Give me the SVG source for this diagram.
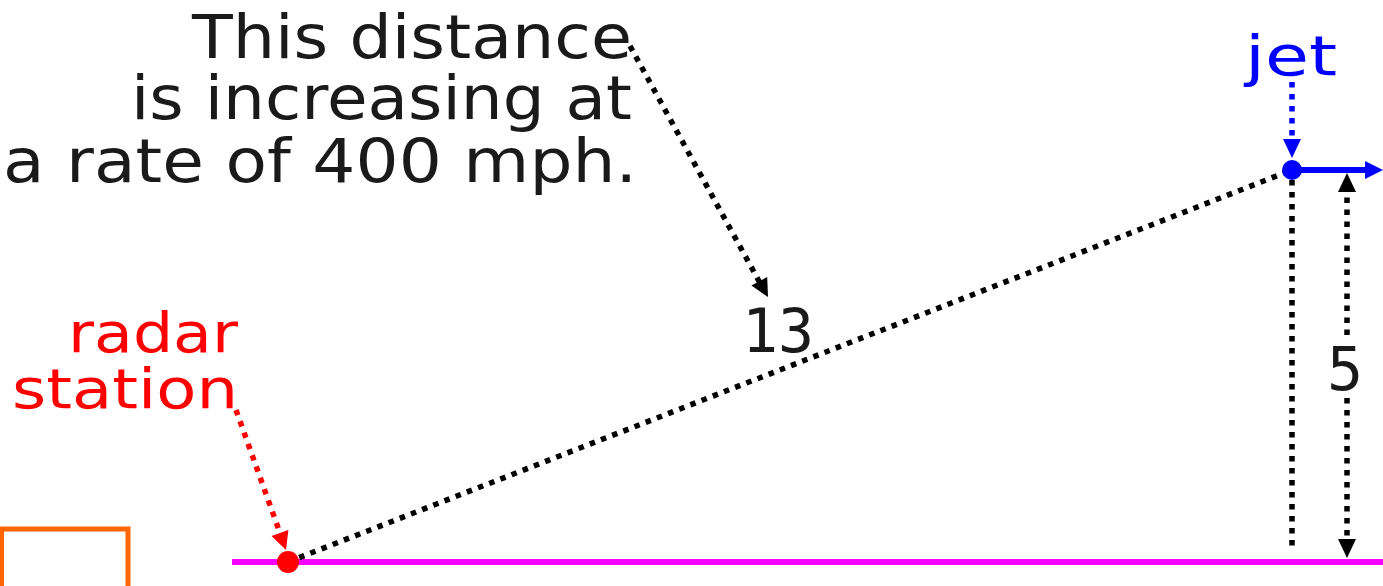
<svg xmlns="http://www.w3.org/2000/svg" width="1383" height="586" viewBox="0 0 1383 586">
<defs>
<style>
.dots{fill:none;stroke-width:5.5;stroke-dasharray:5.5 6.5}
.lbl{font-family:"DejaVu Sans","Liberation Sans",sans-serif;font-size:60px;fill:#1a1a1a}
.lab{font-family:"DejaVu Sans","Liberation Sans",sans-serif;font-size:56px}
.num{font-family:"DejaVu Sans Mono","Liberation Mono",monospace;font-size:60px;fill:#1a1a1a}
</style>
</defs>
<rect width="1383" height="586" fill="#fff"/>
<g id="box"><rect x="1.5" y="529" width="126.5" height="100" fill="none" stroke="#ff6600" stroke-width="5"/></g>
<g id="ground"><line x1="232" y1="562" x2="1383" y2="562" stroke="#ff00ff" stroke-width="6"/></g>
<g id="connectors">
<line class="dots" x1="288" y1="562" x2="1292" y2="170" stroke="#000"/>
<line class="dots" x1="1292" y1="180" x2="1292" y2="552" stroke="#000"/>
<line class="dots" x1="1347" y1="335" x2="1347" y2="191" stroke="#000"/>
<polygon points="1347,173 1338,192 1356,192" fill="#000"/>
<line class="dots" x1="1347" y1="398" x2="1347" y2="541" stroke="#000"/>
<polygon points="1347,558 1338,539 1356,539" fill="#000"/>
<line class="dots" x1="630" y1="46" x2="760" y2="283" stroke="#000"/>
<polygon points="768,297 751.4,285.6 767.2,276.9" fill="#000"/>
<line class="dots" x1="236" y1="410" x2="280.5" y2="534.5" stroke="#f00"/>
<polygon points="286,550 271.5,536.1 288.4,530" fill="#f00"/>
<line class="dots" x1="1292" y1="82" x2="1292" y2="141" stroke="#00f"/>
<polygon points="1292,158 1283,139 1301,139" fill="#00f"/>
<line x1="1292" y1="170" x2="1368" y2="170" stroke="#00f" stroke-width="6"/>
<polygon points="1383,170 1365,161 1365,179" fill="#00f"/>
</g>
<g id="radar"><circle cx="288" cy="562" r="11" fill="#f00"/>
<text class="lab" x="238" y="352" text-anchor="end" fill="#f00" textLength="170" lengthAdjust="spacingAndGlyphs">radar</text>
<text class="lab" x="238" y="408" text-anchor="end" fill="#f00" textLength="226" lengthAdjust="spacingAndGlyphs">station</text></g>
<g id="jet"><circle cx="1292" cy="170" r="10" fill="#00f"/>
<text class="lab" x="1291" y="75" text-anchor="middle" fill="#00f" textLength="92" lengthAdjust="spacingAndGlyphs">jet</text></g>
<g id="note">
<text class="lbl" x="632" y="58" text-anchor="end" textLength="440" lengthAdjust="spacingAndGlyphs">This distance</text>
<text class="lbl" x="632" y="119" text-anchor="end" textLength="501" lengthAdjust="spacingAndGlyphs">is increasing at</text>
<text class="lbl" x="637" y="182" text-anchor="end" textLength="634" lengthAdjust="spacingAndGlyphs">a rate of 400 mph.</text>
</g>
<g id="hyp"><text class="num" x="778" y="352" text-anchor="middle">13</text></g>
<g id="height"><text class="num" x="1345" y="390" text-anchor="middle">5</text></g>
</svg>
